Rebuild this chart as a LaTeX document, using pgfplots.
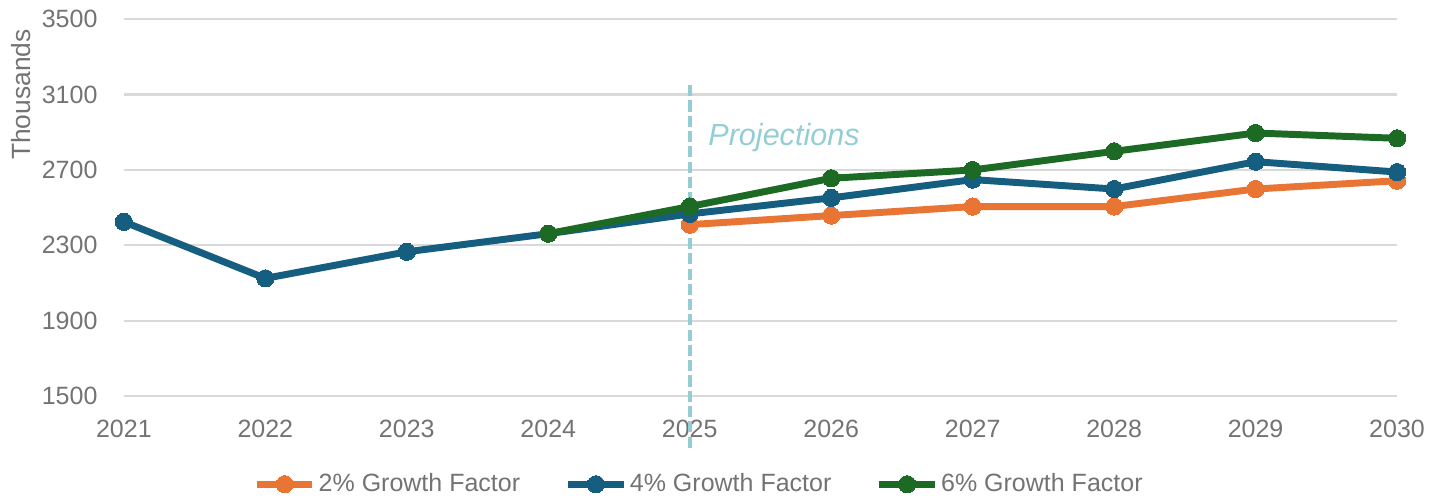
\documentclass[border=0pt]{standalone}
\usepackage{pgfplots}
\pgfplotsset{compat=1.18}
\usepackage{fontspec}
\setmainfont{Liberation Sans}
\definecolor{cOrange}{RGB}{233,117,52}
\definecolor{cBlue}{RGB}{22,94,128}
\definecolor{cGreen}{RGB}{28,106,36}
\definecolor{cTeal}{RGB}{146,206,212}
\definecolor{cText}{RGB}{115,115,115}
\definecolor{cGrid}{RGB}{217,217,217}
\begin{document}
\begin{tikzpicture}
\begin{axis}[
  at={(0,0)}, anchor=south west,
  scale only axis,
  width=458.3pt, height=135.7pt,
  xmin=2021, xmax=2030,
  ymin=1500, ymax=3500,
  xtick={2021,...,2030},
  ytick={1500,1900,2300,2700,3100,3500},
  xticklabel style={/pgf/number format/1000 sep={}, yshift=-5pt},
  yticklabel style={/pgf/number format/1000 sep={}, xshift=-6pt},
  /pgf/number format/assume math mode=true,
  tick label style={font=\fontsize{9}{10}\selectfont, text=cText},
  axis line style={draw=none},
  major tick length=0pt,
  ymajorgrids,
  grid style={cGrid, line width=0.8pt},
  ylabel={Thousands},
  ylabel style={font=\fontsize{9.5}{11}\selectfont, text=cText, at={(ticklabel cs:0.8)}, anchor=south, yshift=-3pt},
  clip=false,
  legend columns=3,
  legend style={draw=none, fill=none, at={(0.452,-0.2336)}, anchor=center,
    font=\fontsize{9}{10}\selectfont, text=cText,
    nodes={inner xsep=1pt},
    /tikz/every even column/.append style={column sep=15pt},
    inner sep=0pt},
  legend image code/.code={
    \draw[#1, mark=none] (0pt,0pt) -- (20pt,0pt);
    \draw[#1, only marks] plot coordinates {(10pt,0pt)};
  },
  every axis plot/.append style={line width=2.5pt, mark=*, mark size=3.1pt},
]
\addplot[cOrange, mark options={fill=cOrange, draw=cOrange, line width=0pt}] coordinates {
 (2025,2410) (2026,2458) (2027,2506) (2028,2506) (2029,2599) (2030,2643)};
\addlegendentry{2\% Growth Factor}
\addplot[cBlue, mark options={fill=cBlue, draw=cBlue, line width=0pt}] coordinates {
 (2021,2425) (2022,2125) (2023,2266) (2024,2362) (2025,2467) (2026,2552) (2027,2649) (2028,2599) (2029,2744) (2030,2689)};
\addlegendentry{4\% Growth Factor}
\addplot[cGreen, mark options={fill=cGreen, draw=cGreen, line width=0pt}] coordinates {
 (2024,2362) (2025,2506) (2026,2656) (2027,2700) (2028,2799) (2029,2896) (2030,2868)};
\addlegendentry{6\% Growth Factor}
\addplot[cTeal, line width=1.45pt, mark=none, dash pattern=on 4pt off 1.5pt, forget plot] coordinates {(2025,3150) (2025,1214)};
\node[anchor=west, text=cTeal, font=\fontsize{11}{13}\selectfont\itshape, inner sep=0pt] at (axis cs:2025,2874) [xshift=6.5pt] {Projections};
\end{axis}
\pgfresetboundingbox
\path (-44.6pt,-37.4pt) rectangle (474.8pt,142.6pt);
\end{tikzpicture}
\end{document}
